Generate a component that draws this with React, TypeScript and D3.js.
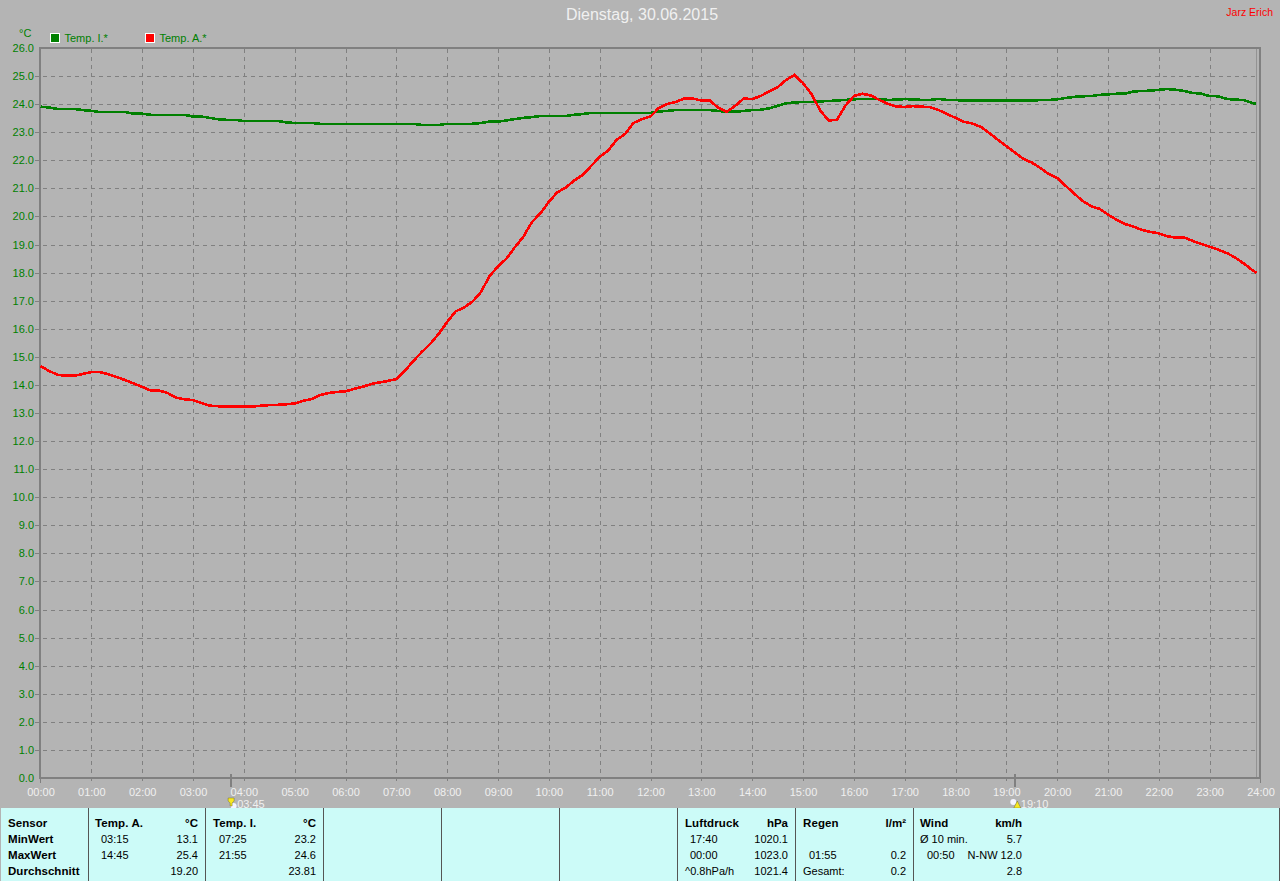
import React from "react";
import * as d3 from "d3";

const W = 1280, H = 881;
const hourLabels = d3.range(0, 25).map((h) => String(h).padStart(2, "0") + ":00");
const tempTicks = d3.range(0, 27);

// 10-minute samples (00:00 ... 23:50) plus final 23:55
const tempOutside = [
  14.67, 14.5, 14.36, 14.33, 14.33, 14.39,
  14.46, 14.46, 14.38, 14.28, 14.17, 14.05,
  13.93, 13.8, 13.8, 13.71, 13.55, 13.49,
  13.46, 13.36, 13.26, 13.24, 13.23, 13.23,
  13.23, 13.23, 13.26, 13.28, 13.29, 13.31,
  13.34, 13.43, 13.5, 13.64, 13.71, 13.75,
  13.77, 13.86, 13.93, 14.03, 14.09, 14.14,
  14.21, 14.5, 14.85, 15.17, 15.46, 15.82,
  16.24, 16.62, 16.76, 16.97, 17.31, 17.88,
  18.22, 18.5, 18.91, 19.28, 19.8, 20.11,
  20.52, 20.86, 21.03, 21.28, 21.48, 21.8,
  22.12, 22.35, 22.73, 22.94, 23.33, 23.47,
  23.56, 23.87, 24.01, 24.08, 24.2, 24.2,
  24.13, 24.13, 23.87, 23.73, 23.94, 24.2,
  24.18, 24.29, 24.45, 24.6, 24.86, 25.04,
  24.75, 24.36, 23.79, 23.42, 23.44, 23.94,
  24.29, 24.37, 24.31, 24.15, 24.01, 23.92,
  23.9, 23.93, 23.91, 23.89, 23.79, 23.65,
  23.51, 23.37, 23.31, 23.19, 22.97, 22.73,
  22.51, 22.28, 22.05, 21.92, 21.73, 21.51,
  21.37, 21.09, 20.82, 20.55, 20.37, 20.27,
  20.07, 19.88, 19.73, 19.64, 19.52, 19.45,
  19.4, 19.29, 19.25, 19.25, 19.13, 19.02,
  18.92, 18.82, 18.7, 18.54, 18.33, 18.1,
  17.99,
];
const tempInside = [
  23.91, 23.88, 23.83, 23.83, 23.83, 23.79,
  23.76, 23.72, 23.72, 23.72, 23.72, 23.66,
  23.66, 23.62, 23.62, 23.62, 23.62, 23.62,
  23.56, 23.56, 23.51, 23.46, 23.44, 23.44,
  23.4, 23.4, 23.4, 23.4, 23.4, 23.35,
  23.33, 23.33, 23.33, 23.3, 23.3, 23.3,
  23.3, 23.3, 23.3, 23.3, 23.3, 23.3,
  23.3, 23.3, 23.3, 23.26, 23.26, 23.26,
  23.3, 23.3, 23.3, 23.3, 23.33, 23.38,
  23.38, 23.42, 23.47, 23.51, 23.54, 23.58,
  23.58, 23.58, 23.58, 23.62, 23.65, 23.69,
  23.69, 23.69, 23.69, 23.69, 23.69, 23.69,
  23.69, 23.74, 23.76, 23.79, 23.79, 23.79,
  23.79, 23.79, 23.76, 23.73, 23.73, 23.76,
  23.79, 23.8, 23.85, 23.94, 24.03, 24.06,
  24.08, 24.08, 24.1, 24.11, 24.13, 24.15,
  24.17, 24.19, 24.19, 24.19, 24.15, 24.16,
  24.18, 24.17, 24.15, 24.15, 24.19, 24.15,
  24.15, 24.12, 24.12, 24.12, 24.12, 24.12,
  24.12, 24.12, 24.12, 24.12, 24.15, 24.15,
  24.17, 24.22, 24.26, 24.28, 24.29, 24.33,
  24.35, 24.37, 24.37, 24.45, 24.47, 24.48,
  24.51, 24.54, 24.51, 24.47, 24.4, 24.37,
  24.29, 24.28, 24.19, 24.16, 24.15, 24.04,
  24.01,
];
const sampleMinutes = tempOutside.map((_, i) => (i === 144 ? 1435 : i * 10));

const sunMarkers = [
  { minute: 225, label: "03:45" },
  { minute: 1150, label: "19:10" },
];
const legendItems = [
  { label: "Temp. I.*", color: "#008000" },
  { label: "Temp. A.*", color: "#ff0000" },
];
const panelDividers = [88.5, 205.5, 323.5, 441.5, 559.5, 677.5, 795.5, 913.5];
const rowLabels = ["Sensor", "MinWert", "MaxWert", "Durchschnitt"];
const colA = { name: "Temp. A.", unit: "°C", times: ["03:15", "14:45", ""], vals: ["13.1", "25.4", "19.20"] };
const colI = { name: "Temp. I.", unit: "°C", times: ["07:25", "21:55", ""], vals: ["23.2", "24.6", "23.81"] };
const colP = { name: "Luftdruck", unit: "hPa", times: ["17:40", "00:00", ""], vals: ["1020.1", "1023.0", "1021.4"] };
const colR = { name: "Regen", unit: "l/m²", times: ["", "01:55", ""], vals: ["", "0.2", "0.2"] };
const colW = { name: "Wind", unit: "km/h", times: ["", "00:50", ""], vals: ["5.7", "N-NW 12.0", "2.8"] };

const FONT = "'Liberation Sans', Arial, sans-serif";
const BG = "#b4b4b4";
const GRID = "#808080";
const PANEL = "#ccfbf8";
const rowY = [827, 843, 859, 875];

function Column({ c, left, timeLeft, right }: { c: typeof colA; left: number; timeLeft: number; right: number }) {
  return (
    <g fontFamily={FONT} fontSize={11} fill="#000">
      <text x={left} y={rowY[0]} fontSize={11.5} fontWeight="bold" letterSpacing={0.1}>{c.name}</text>
      <text x={right} y={rowY[0]} fontSize={11.5} fontWeight="bold" textAnchor="end">{c.unit}</text>
      {c.times.map((t, i) => (
        <text key={"t" + i} x={timeLeft} y={rowY[i + 1]}>{t}</text>
      ))}
      {c.vals.map((v, i) => (
        <text key={"v" + i} x={right} y={rowY[i + 1]} textAnchor="end">{v}</text>
      ))}
    </g>
  );
}

export default function App() {
  const x = d3.scaleLinear().domain([0, 1440]).range([40.5, 1260.5]);
  const y = d3.scaleLinear().domain([0, 26]).range([778, 48]);
  const line = d3.line<number>()
    .x((_, i) => x(sampleMinutes[i]))
    .y((d) => y(d));

  return (
    <svg width={W} height={H} viewBox={`0 0 ${W} ${H}`} style={{ position: "absolute", left: 0, top: 0, display: "block" }}>
      <rect width={W} height={H} fill={BG} />

      <text x={642} y={20} textAnchor="middle" fontFamily={FONT} fontSize={16} fill="#f0f0f0">Dienstag, 30.06.2015</text>
      <text x={1273} y={16} textAnchor="end" fontFamily={FONT} fontSize={10.5} fill="#ff0000">Jarz Erich</text>
      <text x={19} y={37} fontFamily={FONT} fontSize={11} fill="#008000">°C</text>

      {legendItems.map((d, i) => (
        <g key={d.label} transform={`translate(${50.5 + i * 95},33.5)`}>
          <rect width={9} height={9} fill={d.color} stroke="#fff" strokeWidth={1} shapeRendering="crispEdges" />
          <text x={14} y={8.5} fontFamily={FONT} fontSize={11} fill="#008000">{d.label}</text>
        </g>
      ))}

      {/* grid */}
      <g stroke={GRID} strokeWidth={1} strokeDasharray="4 4" shapeRendering="crispEdges">
        {tempTicks.slice(1, -1).map((t) => (
          <line key={t} x1={35} x2={1258} y1={Math.round(y(t)) + 0.5} y2={Math.round(y(t)) + 0.5} />
        ))}
        {hourLabels.slice(1, -1).map((_, i) => (
          <line key={i} x1={Math.round(x((i + 1) * 60)) + 0.5} x2={Math.round(x((i + 1) * 60)) + 0.5} y1={49} y2={783} />
        ))}
      </g>

      {/* frame */}
      <g stroke={GRID} fill="none" shapeRendering="crispEdges">
        <line x1={1256.5} x2={1256.5} y1={48} y2={778} stroke="#939393" strokeWidth={1} />
        <line x1={39} x2={1261} y1={48} y2={48} strokeWidth={2} />
        <line x1={39} x2={1261} y1={778} y2={778} strokeWidth={2} />
        <line x1={40} x2={40} y1={47} y2={779} strokeWidth={2} />
        <line x1={1260} x2={1260} y1={47} y2={779} strokeWidth={2} />
        <line x1={40.5} x2={40.5} y1={778} y2={783} strokeWidth={1} />
        <line x1={1260.5} x2={1260.5} y1={778} y2={783} strokeWidth={1} />
      </g>

      {/* y labels */}
      <g fontFamily={FONT} fontSize={11} fill="#008000" textAnchor="end">
        {tempTicks.map((t) => (
          <text key={t} x={34} y={y(t) + 4}>{t.toFixed(1)}</text>
        ))}
      </g>
      {/* x labels */}
      <g fontFamily={FONT} fontSize={11} fill="#f0f0f0" textAnchor="middle">
        {hourLabels.map((l, i) => (
          <text key={l} x={x(i * 60) + 0.5} y={796}>{l}</text>
        ))}
      </g>

      {/* series */}
      <path d={line(tempInside) ?? ""} fill="none" stroke="#008000" strokeWidth={2.6} shapeRendering="crispEdges" />
      <path d={line(tempOutside) ?? ""} fill="none" stroke="#ff0000" strokeWidth={2.6} shapeRendering="crispEdges" />

      {/* sunrise / sunset */}
      {sunMarkers.map((m, i) => {
        const mx = x(m.minute);
        return (
          <g key={m.label}>
            <line x1={mx} x2={mx} y1={774} y2={787} stroke={GRID} strokeWidth={2} shapeRendering="crispEdges" />
            <text x={mx + 6} y={808} fontFamily={FONT} fontSize={11} fill="#f0f0f0">{m.label}</text>
            <circle cx={i === 0 ? mx + 2.5 : mx - 1.5} cy={i === 0 ? 806 : 802} r={3} fill="#f4f4ff" />
            <path d={i === 0
              ? `M${mx - 3},798 h6 v3 l-2,2 v3 h-2 v-3 l-2,-2 z`
              : `M${mx + 2.5},801 l3.5,7 h-7 z`} fill="#f8e820" stroke="#5a5a20" strokeWidth={0.4} />
          </g>
        );
      })}

      {/* bottom panel */}
      <rect x={1} y={808} width={1278} height={73} fill={PANEL} shapeRendering="crispEdges" />
      <line x1={1279.5} x2={1279.5} y1={808} y2={881} stroke="#555" strokeWidth={1} shapeRendering="crispEdges" />
      {panelDividers.map((d) => (
        <line key={d} x1={d} x2={d} y1={808} y2={881} stroke="#555" strokeWidth={1} shapeRendering="crispEdges" />
      ))}
      <g fontFamily={FONT} fontSize={11.5} fontWeight="bold" fill="#000" letterSpacing={0.05}>
        {rowLabels.map((r, i) => (
          <text key={r} x={8} y={rowY[i]}>{r}</text>
        ))}
      </g>
      <Column c={colA} left={95} timeLeft={101} right={198} />
      <Column c={colI} left={213} timeLeft={219} right={316} />
      <Column c={colP} left={685} timeLeft={690} right={788} />
      <Column c={colR} left={803} timeLeft={809} right={906} />
      <Column c={colW} left={920} timeLeft={927} right={1022} />
      <g fontFamily={FONT} fontSize={11} fill="#000">
        <text x={685} y={rowY[3]}>^0.8hPa/h</text>
        <text x={803} y={rowY[3]}>Gesamt:</text>
        <text x={920} y={rowY[1]}>Ø 10 min.</text>
      </g>
    </svg>
  );
}
